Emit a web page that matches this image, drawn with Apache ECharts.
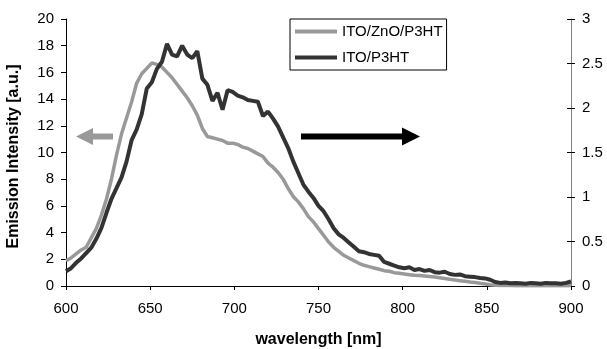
<!DOCTYPE html>
<html>
<head>
<meta charset="utf-8">
<script src="https://cdn.jsdelivr.net/npm/echarts@6/dist/echarts.min.js"></script>
<style>
	html, body { margin: 0; padding: 0; background: #fff; }
	#main { width: 607px; height: 349px; }
</style>
</head>
<body>
<div id="main"></div>
<script>
// wavelength [nm]
var wavelength = [
	600, 603, 606, 609, 612, 615, 618, 621, 624, 627,
	630, 633, 636, 639, 642, 645, 648, 651, 654, 657,
	660, 663, 666, 669, 672, 675, 678, 681, 684, 687,
	690, 693, 696, 699, 702, 705, 708, 711, 714, 717,
	720, 723, 726, 729, 732, 735, 738, 741, 744, 747,
	750, 753, 756, 759, 762, 765, 768, 771, 774, 777,
	780, 783, 786, 789, 792, 795, 798, 801, 804, 807,
	810, 813, 816, 819, 822, 825, 828, 831, 834, 837,
	840, 843, 846, 849, 852, 855, 858, 861, 864, 867,
	870, 873, 876, 879, 882, 885, 888, 891, 894, 897,
	900
];
// ITO/ZnO/P3HT, left axis
var znoP3ht = [
	1.9, 2.1, 2.4, 2.7, 2.9, 3.6, 4.3, 5.3, 6.5, 8.0,
	9.8, 11.4, 12.6, 13.8, 15.2, 15.9, 16.3, 16.7, 16.6, 16.4,
	16.0, 15.6, 15.1, 14.6, 14.1, 13.5, 12.8, 11.8, 11.2, 11.1,
	11.0, 10.9, 10.7, 10.7, 10.6, 10.4, 10.3, 10.1, 9.9, 9.7,
	9.2, 8.9, 8.5, 8.0, 7.3, 6.7, 6.3, 5.8, 5.2, 4.8,
	4.3, 3.8, 3.3, 2.9, 2.6, 2.3, 2.1, 1.9, 1.7, 1.55,
	1.45, 1.35, 1.25, 1.15, 1.1, 1.0, 0.95, 0.9, 0.85, 0.8,
	0.78, 0.75, 0.72, 0.68, 0.62, 0.56, 0.5, 0.45, 0.4, 0.35,
	0.3, 0.26, 0.2, 0.15, 0.1, 0.06, 0.04, 0.03, 0.03, 0.02,
	0.02, 0.02, 0.02, 0.02, 0.02, 0.02, 0.02, 0.02, 0.02, 0.02,
	0.02
];
// ITO/P3HT, right axis
var p3ht = [
	0.165, 0.20, 0.26, 0.31, 0.37, 0.43, 0.53, 0.65, 0.82, 0.98,
	1.10, 1.22, 1.40, 1.64, 1.76, 1.93, 2.22, 2.29, 2.44, 2.52,
	2.72, 2.60, 2.58, 2.70, 2.60, 2.56, 2.64, 2.33, 2.26, 2.08,
	2.17, 1.98, 2.20, 2.18, 2.14, 2.12, 2.09, 2.08, 2.07, 1.91,
	1.96, 1.88, 1.79, 1.67, 1.55, 1.40, 1.27, 1.14, 1.06, 0.99,
	0.90, 0.84, 0.75, 0.65, 0.58, 0.54, 0.49, 0.44, 0.39, 0.38,
	0.36, 0.35, 0.34, 0.27, 0.25, 0.23, 0.21, 0.20, 0.21, 0.18,
	0.19, 0.17, 0.18, 0.155, 0.15, 0.16, 0.135, 0.125, 0.13, 0.11,
	0.105, 0.10, 0.09, 0.085, 0.07, 0.045, 0.035, 0.04, 0.03, 0.035,
	0.03, 0.025, 0.035, 0.03, 0.025, 0.035, 0.03, 0.03, 0.025, 0.035,
	0.05
];
var xTicks = [600, 650, 700, 750, 800, 850, 900];

function pairs(xs, ys) {
	return xs.map(function (x, i) { return [x, ys[i]]; });
}

var font = 'Liberation Sans, Arial, sans-serif';
var chart = echarts.init(document.getElementById('main'), null, { renderer: 'canvas' });

chart.setOption({
	backgroundColor: '#fff',
	animation: false,
	textStyle: { fontFamily: font },
	// v6 would shrink the grid to fit labels; keep it fixed
	grid: { left: 66, right: 36, top: 19, bottom: 63, containLabel: false, outerBoundsMode: 'none' },
	legend: {
		left: 290,
		top: 19,
		orient: 'vertical',
		icon: 'rect',
		itemWidth: 42,
		itemHeight: 4,
		itemGap: 11,
		padding: [5, 4, 5, 5],
		borderColor: '#000',
		borderWidth: 1,
		borderRadius: 0,
		textStyle: { fontSize: 15, color: '#000', fontFamily: font },
		data: ['ITO/ZnO/P3HT', 'ITO/P3HT']
	},
	xAxis: {
		type: 'value',
		min: 600,
		max: 900,
		interval: 50,
		name: 'wavelength [nm]',
		nameLocation: 'middle',
		nameGap: 46,
		nameTextStyle: { fontSize: 16, fontWeight: 'bold', color: '#000' },
		axisLine: { onZero: false, lineStyle: { color: '#000', width: 1 } },
		axisTick: { length: 4, lineStyle: { color: '#000' } },
		axisLabel: {
			fontSize: 15, color: '#000', margin: 15,
			formatter: function (v) { return xTicks.indexOf(v) >= 0 ? String(v) : ''; }
		},
		splitLine: { show: false }
	},
	yAxis: [
		{
			type: 'value',
			min: 0,
			max: 20,
			interval: 2,
			position: 'left',
			name: 'Emission Intensity [a.u.]',
			nameLocation: 'middle',
			nameGap: 44,
			nameTextStyle: { fontSize: 16, fontWeight: 'bold', color: '#000', padding: [0, 0, 0, -8] },
			axisLine: { show: true, lineStyle: { color: '#000', width: 1 } },
			axisTick: { show: true, length: 5, lineStyle: { color: '#000' } },
			axisLabel: { fontSize: 15, color: '#000', margin: 12 },
			splitLine: { show: false }
		},
		{
			type: 'value',
			min: 0,
			max: 3,
			interval: 0.5,
			position: 'right',
			axisLine: { show: true, lineStyle: { color: '#808080', width: 1 } },
			axisTick: { show: true, length: 4, lineStyle: { color: '#000' } },
			axisLabel: { fontSize: 15, color: '#000', margin: 11 },
			splitLine: { show: false }
		},
		{
			// inner half of the crossing ticks on the right axis
			type: 'value',
			min: 0,
			max: 3,
			interval: 0.5,
			position: 'right',
			axisLine: { show: false },
			axisTick: { show: true, inside: true, length: 4, lineStyle: { color: '#000' } },
			axisLabel: { show: false },
			splitLine: { show: false }
		}
	],
	series: [
		{
			name: 'ITO/ZnO/P3HT',
			type: 'line',
			yAxisIndex: 0,
			data: pairs(wavelength, znoP3ht),
			showSymbol: false,
			symbol: 'none',
			lineStyle: { color: '#999999', width: 3.5 },
			itemStyle: { color: '#999999' }
		},
		{
			name: 'ITO/P3HT',
			type: 'line',
			yAxisIndex: 1,
			data: pairs(wavelength, p3ht),
			showSymbol: false,
			symbol: 'none',
			lineStyle: { color: '#333333', width: 4 },
			itemStyle: { color: '#333333' }
		}
	],
	graphic: [
		// grey arrow -> left axis
		{
			type: 'polygon',
			shape: { points: [[76, 136.5], [93, 128], [93, 133.5], [113, 133.5], [113, 139.5], [93, 139.5], [93, 145]] },
			style: { fill: '#999999' }
		},
		// black arrow -> right axis
		{
			type: 'polygon',
			shape: { points: [[420, 136.5], [402, 127.5], [402, 133.5], [301, 133.5], [301, 139.5], [402, 139.5], [402, 145.5]] },
			style: { fill: '#000' }
		}
	]
});
</script>
</body>
</html>
